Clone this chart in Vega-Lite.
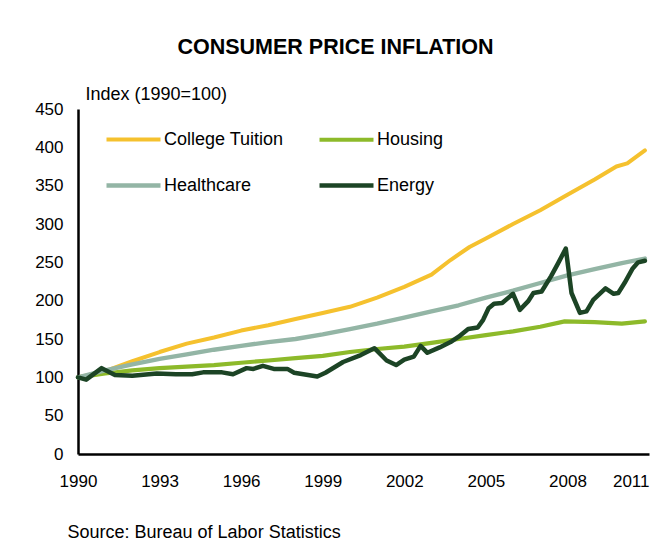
{
  "$schema": "https://vega.github.io/schema/vega-lite/v6.json",
  "width": 571,
  "height": 345,
  "autosize": {"type": "none"},
  "padding": {"left": 78, "top": 109, "right": 21, "bottom": 102},
  "background": "white",
  "title": {"text": "CONSUMER PRICE INFLATION", "fontSize": 21.5, "font": "Liberation Sans", "fontWeight": "bold", "color": "black", "anchor": "middle", "dx": -28, "offset": 27},
  "config": {"view": {"stroke": null}},
  "data": {"values": [
    {"series": "College Tuition", "year": 1990, "index": 100},
    {"series": "College Tuition", "year": 1991, "index": 108},
    {"series": "College Tuition", "year": 1992, "index": 121},
    {"series": "College Tuition", "year": 1993, "index": 133},
    {"series": "College Tuition", "year": 1994, "index": 144},
    {"series": "College Tuition", "year": 1995, "index": 152},
    {"series": "College Tuition", "year": 1996, "index": 161},
    {"series": "College Tuition", "year": 1997, "index": 168},
    {"series": "College Tuition", "year": 1998, "index": 176},
    {"series": "College Tuition", "year": 1999, "index": 184},
    {"series": "College Tuition", "year": 2000, "index": 192},
    {"series": "College Tuition", "year": 2001, "index": 204},
    {"series": "College Tuition", "year": 2002, "index": 218},
    {"series": "College Tuition", "year": 2003, "index": 234},
    {"series": "College Tuition", "year": 2003.7, "index": 253},
    {"series": "College Tuition", "year": 2004.4, "index": 270},
    {"series": "College Tuition", "year": 2005, "index": 281},
    {"series": "College Tuition", "year": 2006, "index": 300},
    {"series": "College Tuition", "year": 2007, "index": 318},
    {"series": "College Tuition", "year": 2008, "index": 338},
    {"series": "College Tuition", "year": 2009, "index": 358},
    {"series": "College Tuition", "year": 2009.8, "index": 375},
    {"series": "College Tuition", "year": 2010.2, "index": 379},
    {"series": "College Tuition", "year": 2010.85, "index": 396},
    {"series": "Housing", "year": 1990, "index": 100},
    {"series": "Housing", "year": 1991, "index": 105},
    {"series": "Housing", "year": 1992, "index": 109},
    {"series": "Housing", "year": 1993, "index": 112},
    {"series": "Housing", "year": 1994, "index": 114},
    {"series": "Housing", "year": 1995, "index": 116},
    {"series": "Housing", "year": 1996, "index": 119},
    {"series": "Housing", "year": 1997, "index": 122},
    {"series": "Housing", "year": 1998, "index": 125},
    {"series": "Housing", "year": 1999, "index": 128},
    {"series": "Housing", "year": 2000, "index": 133},
    {"series": "Housing", "year": 2001, "index": 137},
    {"series": "Housing", "year": 2002, "index": 140},
    {"series": "Housing", "year": 2003, "index": 145},
    {"series": "Housing", "year": 2004, "index": 150},
    {"series": "Housing", "year": 2005, "index": 155},
    {"series": "Housing", "year": 2006, "index": 160},
    {"series": "Housing", "year": 2007, "index": 166},
    {"series": "Housing", "year": 2007.9, "index": 173},
    {"series": "Housing", "year": 2009, "index": 172},
    {"series": "Housing", "year": 2010, "index": 170},
    {"series": "Housing", "year": 2010.85, "index": 173},
    {"series": "Healthcare", "year": 1990, "index": 100},
    {"series": "Healthcare", "year": 1991, "index": 109},
    {"series": "Healthcare", "year": 1992, "index": 117},
    {"series": "Healthcare", "year": 1993, "index": 124},
    {"series": "Healthcare", "year": 1994, "index": 130},
    {"series": "Healthcare", "year": 1995, "index": 136},
    {"series": "Healthcare", "year": 1996, "index": 141},
    {"series": "Healthcare", "year": 1997, "index": 146},
    {"series": "Healthcare", "year": 1998, "index": 150},
    {"series": "Healthcare", "year": 1999, "index": 156},
    {"series": "Healthcare", "year": 2000, "index": 163},
    {"series": "Healthcare", "year": 2001, "index": 170},
    {"series": "Healthcare", "year": 2002, "index": 178},
    {"series": "Healthcare", "year": 2003, "index": 186},
    {"series": "Healthcare", "year": 2004, "index": 194},
    {"series": "Healthcare", "year": 2005, "index": 204},
    {"series": "Healthcare", "year": 2006, "index": 213},
    {"series": "Healthcare", "year": 2007, "index": 223},
    {"series": "Healthcare", "year": 2008, "index": 233},
    {"series": "Healthcare", "year": 2009, "index": 241},
    {"series": "Healthcare", "year": 2010, "index": 249},
    {"series": "Healthcare", "year": 2010.85, "index": 255},
    {"series": "Energy", "year": 1990, "index": 100},
    {"series": "Energy", "year": 1990.3, "index": 97},
    {"series": "Energy", "year": 1990.87, "index": 112},
    {"series": "Energy", "year": 1991.36, "index": 103},
    {"series": "Energy", "year": 1992, "index": 102},
    {"series": "Energy", "year": 1992.9, "index": 105},
    {"series": "Energy", "year": 1993.6, "index": 104},
    {"series": "Energy", "year": 1994.2, "index": 104},
    {"series": "Energy", "year": 1994.6, "index": 106.5},
    {"series": "Energy", "year": 1995.3, "index": 106.5},
    {"series": "Energy", "year": 1995.7, "index": 104},
    {"series": "Energy", "year": 1996.2, "index": 112},
    {"series": "Energy", "year": 1996.45, "index": 111},
    {"series": "Energy", "year": 1996.8, "index": 115},
    {"series": "Energy", "year": 1997.2, "index": 111},
    {"series": "Energy", "year": 1997.7, "index": 111},
    {"series": "Energy", "year": 1997.95, "index": 106},
    {"series": "Energy", "year": 1998.8, "index": 101},
    {"series": "Energy", "year": 1999.1, "index": 106},
    {"series": "Energy", "year": 1999.75, "index": 120},
    {"series": "Energy", "year": 2000.4, "index": 129},
    {"series": "Energy", "year": 2000.9, "index": 138},
    {"series": "Energy", "year": 2001.35, "index": 122},
    {"series": "Energy", "year": 2001.7, "index": 116},
    {"series": "Energy", "year": 2002.0, "index": 123},
    {"series": "Energy", "year": 2002.35, "index": 127},
    {"series": "Energy", "year": 2002.6, "index": 141},
    {"series": "Energy", "year": 2002.85, "index": 132},
    {"series": "Energy", "year": 2003.3, "index": 139},
    {"series": "Energy", "year": 2003.7, "index": 146},
    {"series": "Energy", "year": 2004.0, "index": 153},
    {"series": "Energy", "year": 2004.35, "index": 163},
    {"series": "Energy", "year": 2004.7, "index": 165},
    {"series": "Energy", "year": 2004.9, "index": 175},
    {"series": "Energy", "year": 2005.1, "index": 190},
    {"series": "Energy", "year": 2005.3, "index": 196},
    {"series": "Energy", "year": 2005.6, "index": 197},
    {"series": "Energy", "year": 2006.0, "index": 209},
    {"series": "Energy", "year": 2006.25, "index": 188},
    {"series": "Energy", "year": 2006.55, "index": 199},
    {"series": "Energy", "year": 2006.75, "index": 210},
    {"series": "Energy", "year": 2007.05, "index": 212},
    {"series": "Energy", "year": 2007.4, "index": 232},
    {"series": "Energy", "year": 2007.66, "index": 249},
    {"series": "Energy", "year": 2007.94, "index": 268},
    {"series": "Energy", "year": 2008.15, "index": 210},
    {"series": "Energy", "year": 2008.46, "index": 184},
    {"series": "Energy", "year": 2008.7, "index": 186},
    {"series": "Energy", "year": 2008.95, "index": 201},
    {"series": "Energy", "year": 2009.4, "index": 216},
    {"series": "Energy", "year": 2009.7, "index": 209},
    {"series": "Energy", "year": 2009.87, "index": 210},
    {"series": "Energy", "year": 2010.1, "index": 223},
    {"series": "Energy", "year": 2010.4, "index": 242},
    {"series": "Energy", "year": 2010.6, "index": 250},
    {"series": "Energy", "year": 2010.85, "index": 252}
  ]},
  "mark": {"type": "line", "strokeCap": "round", "strokeJoin": "round"},
  "encoding": {
    "x": {
      "field": "year", "type": "quantitative",
      "scale": {"domain": [1990, 2011], "nice": false, "zero": false},
      "axis": {
        "values": [1990, 1993, 1996, 1999, 2002, 2005, 2008, 2011],
        "format": "d",
        "grid": false, "ticks": false, "tickSize": 0,
        "domainColor": "black", "domainWidth": 2.5,
        "labelFont": "Liberation Sans", "labelFontSize": 17, "labelColor": "black",
        "labelPadding": 19, "labelFlush": false,
        "labelAlign": {"condition": {"test": "datum.value == 2011", "value": "right"}, "value": "center"},
        "title": "Source: Bureau of Labor Statistics",
        "titleFont": "Liberation Sans", "titleFontSize": 18, "titleFontWeight": "normal", "titleColor": "black",
        "titleAlign": "left", "titleBaseline": "alphabetic", "titleX": -11, "titleY": 83
      }
    },
    "y": {
      "field": "index", "type": "quantitative",
      "scale": {"domain": [0, 450], "nice": false},
      "axis": {
        "values": [0, 50, 100, 150, 200, 250, 300, 350, 400, 450],
        "grid": false, "ticks": false, "tickSize": 0,
        "domainColor": "black", "domainWidth": 2.5,
        "labelFont": "Liberation Sans", "labelFontSize": 17, "labelColor": "black",
        "labelPadding": 15,
        "title": "Index (1990=100)",
        "titleFont": "Liberation Sans", "titleFontSize": 18, "titleFontWeight": "normal", "titleColor": "black",
        "titleAngle": 0, "titleAlign": "left", "titleBaseline": "alphabetic", "titleX": 7, "titleY": -10
      }
    },
    "color": {
      "field": "series", "type": "nominal",
      "scale": {"domain": ["College Tuition", "Housing", "Healthcare", "Energy"], "range": ["#F5C12E", "#8DBA2A", "#93B5A5", "#1C4425"]},
      "legend": {
        "orient": "none", "legendX": 26, "legendY": 1, "columns": 2, "direction": "horizontal", "title": null,
        "symbolType": "stroke", "symbolSize": 2916, "symbolStrokeWidth": 4.5,
        "labelFont": "Liberation Sans", "labelFontSize": 18, "labelColor": "black", "labelOffset": 1,
        "labelLimit": 300, "columnPadding": 26, "rowPadding": 7, "padding": 0
      }
    },
    "strokeWidth": {
      "field": "series", "type": "nominal",
      "scale": {"domain": ["College Tuition", "Housing", "Healthcare", "Energy"], "range": [4, 4.5, 5, 5.5]},
      "legend": null
    }
  }
}
